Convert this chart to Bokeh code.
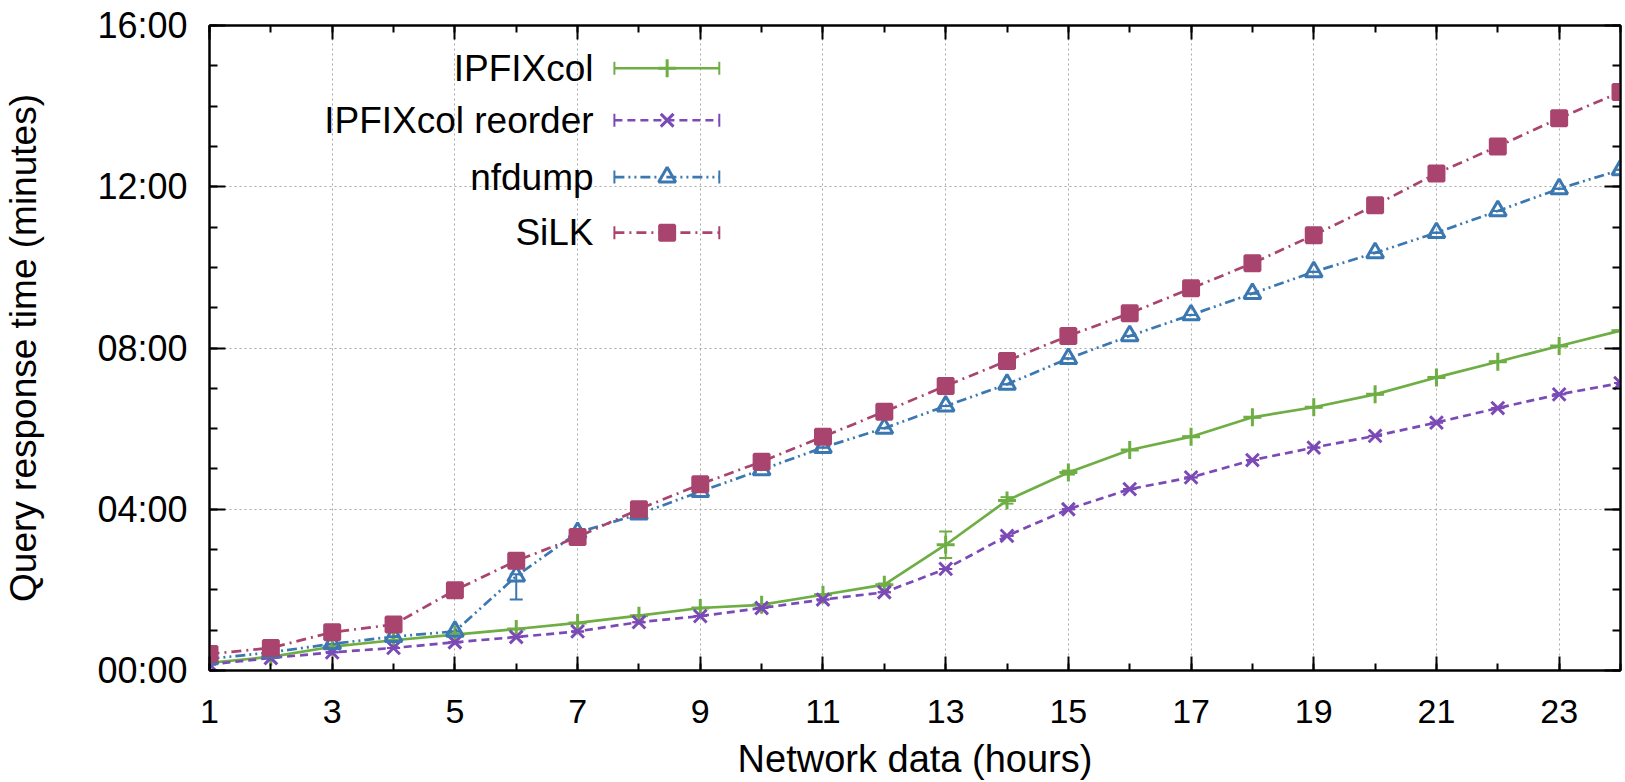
import numpy as np
from bokeh.plotting import figure
from bokeh.models import (FixedTicker, LinearAxis, Whisker, TeeHead, ColumnDataSource, Range1d,
                          CustomJSTickFormatter)
from bokeh.core.properties import value
from bokeh.embed import file_html
from bokeh.resources import INLINE

# ---------------- data ----------------
hours = list(range(1, 25))
series_names = ["IPFIXcol", "IPFIXcol reorder", "nfdump", "SiLK"]

ipfixcol = [0.19, 0.34, 0.59, 0.75, 0.89, 1.03, 1.18, 1.36, 1.55, 1.63, 1.88, 2.13,
            3.12, 4.22, 4.91, 5.47, 5.80, 6.28, 6.53, 6.85, 7.27, 7.66, 8.05, 8.43]
ipfixcol_err = [0, 0, 0, 0, 0, 0, 0, 0, 0, 0, 0, 0.03,
                0.33, 0.08, 0.05, 0, 0, 0, 0, 0, 0, 0, 0, 0]

reorder = [0.15, 0.31, 0.45, 0.56, 0.70, 0.83, 0.97, 1.20, 1.35, 1.55, 1.76, 1.94,
           2.52, 3.34, 4.00, 4.50, 4.79, 5.22, 5.53, 5.82, 6.15, 6.51, 6.85, 7.13]
reorder_err = [0] * 24

nfdump = [0.29, 0.45, 0.66, 0.84, 0.97, 2.34, 3.42, 3.88, 4.44, 4.98, 5.53, 6.01,
          6.56, 7.10, 7.74, 8.30, 8.82, 9.35, 9.89, 10.36, 10.86, 11.40, 11.95, 12.42]
nfdump_err_low = [0, 0, 0, 0, 0, 0.58, 0, 0, 0, 0, 0, 0,
                  0, 0, 0, 0, 0, 0, 0, 0, 0, 0, 0, 0]
nfdump_err_high = [0, 0, 0, 0, 0, 0.05, 0, 0, 0, 0, 0, 0,
                   0, 0, 0, 0, 0, 0, 0, 0, 0, 0, 0, 0]

silk = [0.41, 0.56, 0.95, 1.14, 1.99, 2.72, 3.31, 4.00, 4.62, 5.18, 5.80, 6.42,
        7.06, 7.68, 8.30, 8.86, 9.48, 10.10, 10.80, 11.54, 12.33, 13.00, 13.70, 14.35]
silk_err = [0, 0, 0, 0, 0.15, 0, 0, 0, 0, 0, 0, 0,
            0, 0, 0, 0, 0, 0, 0, 0, 0, 0, 0, 0]

x_major_ticks = [1, 3, 5, 7, 9, 11, 13, 15, 17, 19, 21, 23]
x_minor_ticks = list(range(1, 25))
y_major_ticks = [0, 4, 8, 12, 16]
y_minor_ticks = list(range(0, 17))
y_tick_labels = ["00:00", "04:00", "08:00", "12:00", "16:00"]

# ---------------- styles ----------------
FONT = "Liberation Sans"
colors = ["#6eae45", "#7b4ab7", "#3b78b2", "#a9446f"]
dashes = ["solid", "8 5", "10 4 2 4 2 4", "10 5 2 5"]
markers = ["cross", "x", "triangle", "square"]
msizes = [18, 18, 17, 15]
fills = [1, 1, 0, 1]

p = figure(width=1625, height=782, output_backend="svg", toolbar_location=None,
           x_range=Range1d(1, 24), y_range=Range1d(0, 16),
           min_border_left=206, min_border_right=5, min_border_top=25, min_border_bottom=111,
           x_axis_label="Network data (hours)", y_axis_label="Query response time (minutes)")
p.outline_line_color = "black"
p.outline_line_width = 2
p.background_fill_color = "white"
p.border_fill_color = "white"

bottom = p.below[0]
left = p.left[0]
bottom.ticker = FixedTicker(ticks=x_major_ticks, minor_ticks=x_minor_ticks)
left.ticker = FixedTicker(ticks=y_major_ticks, minor_ticks=y_minor_ticks)
left.major_label_overrides = {t: l for t, l in zip(y_major_ticks, y_tick_labels)}

blank = CustomJSTickFormatter(code="return '';")
top = LinearAxis(ticker=FixedTicker(ticks=x_major_ticks, minor_ticks=x_minor_ticks), formatter=blank)
right = LinearAxis(ticker=FixedTicker(ticks=y_major_ticks, minor_ticks=y_minor_ticks), formatter=blank)
p.add_layout(top, "above")
p.add_layout(right, "right")

for ax in [bottom, left, top, right]:
    ax.axis_line_width = 2
    ax.axis_line_color = "black"
    ax.major_tick_line_width = 2
    ax.minor_tick_line_width = 2
    ax.major_tick_out = 0
    ax.minor_tick_out = 0
    ax.major_label_text_font = FONT
    ax.major_label_text_font_size = "34px"
    ax.major_label_text_color = "black"
    ax.axis_label_text_font = FONT
    ax.axis_label_text_font_style = "normal"
    ax.axis_label_text_color = "black"

for ax in [bottom, top]:
    ax.major_tick_in = 14
    ax.minor_tick_in = 7
for ax in [left, right]:
    ax.major_tick_in = 16
    ax.minor_tick_in = 8

for ax in [top, right]:
    ax.major_label_text_font_size = "1px"
    ax.major_label_standoff = 0

bottom.major_label_standoff = 29
bottom.axis_label_standoff = 12
bottom.axis_label_text_font_size = "38px"
left.major_label_text_font_size = "36px"
left.major_label_standoff = 22
left.axis_label_standoff = 50
left.axis_label_text_font_size = "37px"

p.xgrid.ticker = FixedTicker(ticks=x_major_ticks)
p.ygrid.ticker = FixedTicker(ticks=y_major_ticks)
for g in [p.xgrid[0], p.ygrid[0]]:
    g.grid_line_color = "#a8a8a8"
    g.grid_line_dash = "2 3"
    g.grid_line_width = 1

# ---------------- series ----------------
all_vals = [ipfixcol, reorder, nfdump, silk]
all_lo = [ipfixcol_err, reorder_err, nfdump_err_low, silk_err]
all_hi = [ipfixcol_err, reorder_err, nfdump_err_high, silk_err]

for vals, lo, hi, c, d, m, s, f in zip(all_vals, all_lo, all_hi, colors, dashes, markers, msizes, fills):
    v = np.array(vals)
    src = ColumnDataSource(dict(x=hours, y=vals,
                                lower=(v - np.array(lo)).tolist(),
                                upper=(v + np.array(hi)).tolist()))
    p.line("x", "y", source=src, line_color=c, line_width=2.7, line_dash=d)
    w = Whisker(source=src, base="x", lower="lower", upper="upper", dimension="height",
                line_color=c, line_width=2,
                upper_head=TeeHead(size=13, line_color=c, line_width=2),
                lower_head=TeeHead(size=13, line_color=c, line_width=2))
    p.add_layout(w)
    p.scatter("x", "y", source=src, marker=m, size=s, line_color=c, line_width=3,
              fill_color=c, fill_alpha=f)

# ---------------- legend (gnuplot style, text left of sample) ----------------
leg_text_x = 7.26
leg_x0, leg_x1, leg_mid = 7.60, 9.31, 8.46
leg_rows = [14.94, 13.65, 12.24, 10.86]

p.text(x=[leg_text_x] * 4, y=leg_rows, text=series_names, text_align="right",
       text_baseline="middle", text_font=value(FONT), text_font_size="37px",
       text_color="black")
for yy, c, d, m, s, f in zip(leg_rows, colors, dashes, markers, msizes, fills):
    p.line([leg_x0, leg_x1], [yy, yy], line_color=c, line_width=2.7, line_dash=d)
    p.scatter([leg_x0, leg_x1], [yy, yy], marker="dash", angle=np.pi / 2, size=13,
              line_color=c, line_width=2)
    p.scatter([leg_mid], [yy], marker=m, size=s, line_color=c, line_width=3,
              fill_color=c, fill_alpha=f)

open("out.html", "w").write(file_html(p, INLINE))
